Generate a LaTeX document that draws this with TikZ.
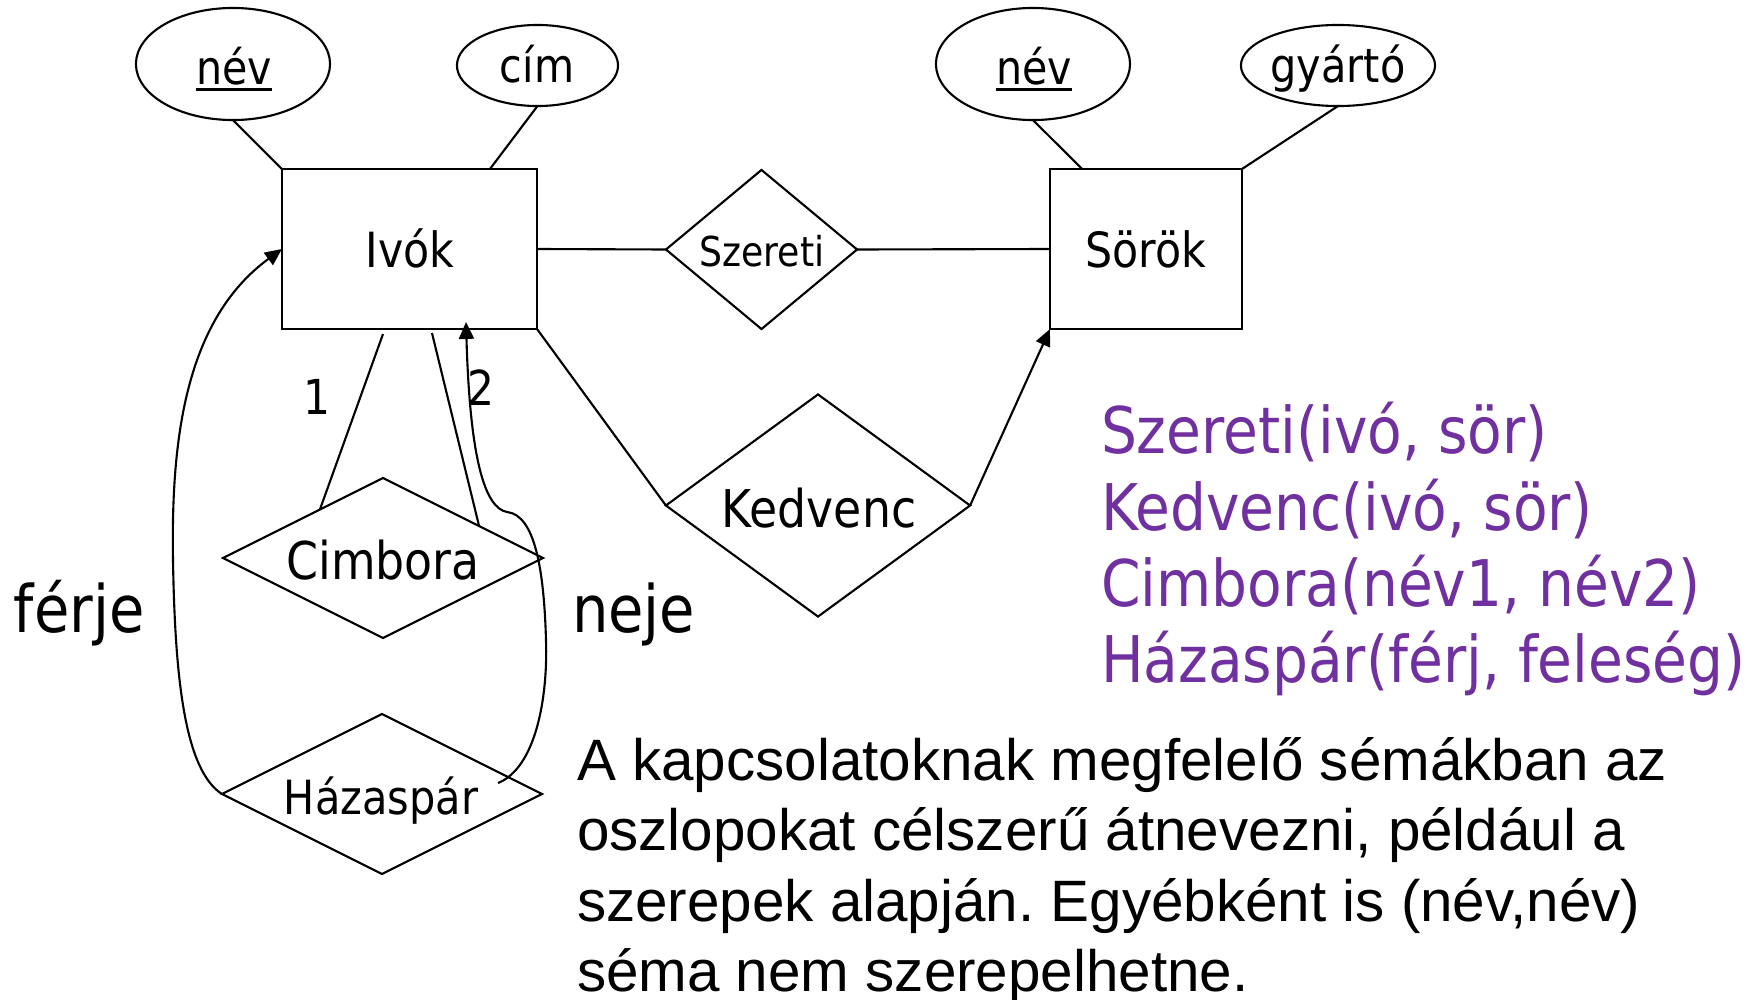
\documentclass[tikz,border=0pt]{standalone}
\usepackage{fontspec}
\setmainfont{DejaVu Sans}[FakeStretch=0.88]
\newfontfamily\arialf{Liberation Sans}
\usetikzlibrary{shapes.geometric,arrows.meta,calc}
\definecolor{lila}{RGB}{112,48,160}
\newcommand\fsz[1]{\fontsize{#1}{#1}\selectfont}
\frenchspacing
\begin{document}
\begin{tikzpicture}[x=0.01cm,y=-0.01cm,line width=0.6pt,
  ent/.style={draw,rectangle,line width=0.75pt,minimum width=#1,minimum height=1.6cm,inner sep=0pt,outer sep=0pt},
  attr/.style 2 args={draw,ellipse,minimum width=#1,minimum height=#2,inner sep=0pt,outer sep=0pt},
  rel/.style 2 args={draw,diamond,minimum width=#1,minimum height=#2,inner sep=0pt,outer sep=0pt},
  txt/.style={inner sep=0pt,outer sep=0pt,anchor=base},
  ltxt/.style={inner sep=0pt,outer sep=0pt,anchor=base west},
  arr/.style={-{Triangle[length=4.8pt,width=4.3pt]}}]
\useasboundingbox (0,0) rectangle (1756,1000);

% attributes
\node[attr={1.94cm}{1.12cm}] (nev1) at (233,64) {};
\node[attr={1.61cm}{0.81cm}] (cim) at (537.5,65.5) {};
\node[attr={1.94cm}{1.12cm}] (nev2) at (1033,64) {};
\node[attr={1.94cm}{0.81cm}] (gyarto) at (1338,65.5) {};
% entities
\node[ent=2.55cm] (ivok) at (409.5,249) {};
\node[ent=1.92cm] (sorok) at (1146,249) {};
% relationships
\node[rel={1.91cm}{1.59cm}] (szer) at (761.5,249.5) {};
\node[rel={3.04cm}{2.22cm}] (kedv) at (818,505.5) {};
\node[rel={3.2cm}{1.6cm}] (cimb) at (383,558) {};
\node[rel={3.2cm}{1.6cm}] (hazas) at (382,794) {};

% texts in shapes
\node[txt,font=\fsz{13.3}] (nev1T) at (234,84) {név};
\node[txt,font=\fsz{13.3}] (cimT) at (537,83) {cím};
\node[txt,font=\fsz{13.3}] (nev2T) at (1034,84) {név};
\node[txt,font=\fsz{13.4}] (gyartoT) at (1338,83) {gyártó};
\draw[line width=1pt] ($(nev1T.base west)+(0,5.5)$) -- ($(nev1T.base east)+(0,5.5)$);
\draw[line width=1pt] ($(nev2T.base west)+(0,5.5)$) -- ($(nev2T.base east)+(0,5.5)$);
\node[txt,font=\fsz{13.8}] (ivokT) at (410,268) {Ivók};
\node[txt,font=\fsz{13.8}] (sorokT) at (1146,268) {Sörök};
\node[txt,font=\fsz{11.7}] (szerT) at (762,266) {Szereti};
\node[txt,font=\fsz{14.8}] (kedvT) at (819,527) {Kedvenc};
\node[txt,font=\fsz{14.8}] (cimbT) at (383,579) {Cimbora};
\node[txt,font=\fsz{13.4}] (hazasT) at (381,814) {Házaspár};
\node[txt,font=\fsz{13.7}] (oneT) at (317,414) {1};
\node[txt,font=\fsz{13.7}] (twoT) at (481,405) {2};

% connectors
\draw (nev1.south) -- (ivok.north west);
\draw (cim.south) -- ($(ivok.north)+(80.5,0)$);
\draw (nev2.south) -- ($(sorok.north)+(-64,0)$);
\draw (gyarto.south) -- (sorok.north east);
\draw (ivok.east) -- (szer.west);
\draw (szer.east) -- (sorok.west);
\draw (ivok.south east) -- (kedv.west);
\draw[arr] (kedv.east) -- (sorok.south west);
\draw ($(ivok.south)+(-26.5,5)$) -- ($(cimb.west)!0.606!(cimb.north)$);
\draw ($(ivok.south)+(22.5,4)$) -- ($(cimb.north)!0.6!(cimb.east)$);
\draw[arr] (hazas.west) .. controls (185,770) and (175,680) .. (173,560)
  .. controls (171,440) and (185,320) .. (ivok.west);
\draw[arr] ($(hazas.east)+(-44,-11)$) .. controls (535,768) and (548,700) .. (546,640)
  .. controls (544,570) and (535,515) .. (507,512)
  .. controls (485,508) and (470,460) .. ($(ivok.south)+(56.5,-7)$);

% role labels
\node[ltxt,font=\fsz{18.6}] (ferjeT) at (14,632) {férje};
\node[ltxt,font=\fsz{18.6}] (nejeT) at (572,632) {neje};

% schemas
\node[ltxt,font=\fsz{18.3},text=lila] (s1) at (1101,453) {Szereti(ivó, sör)};
\node[ltxt,font=\fsz{18.3},text=lila] (s2) at (1101,530) {Kedvenc(ivó, sör)};
\node[ltxt,font=\fsz{18.3},text=lila] (s3) at (1101,606) {Cimbora(név1, név2)};
\node[ltxt,font=\fsz{18.3},text=lila] (s4) at (1101,682) {Házaspár(férj, feleség)};

% paragraph
\node[ltxt,font=\arialf\fsz{16.6}] (p1) at (577,780) {A kapcsolatoknak megfelelő sémákban az};
\node[ltxt,font=\arialf\fsz{16.6}] (p2) at (577,850.5) {oszlopokat célszerű átnevezni, például a};
\node[ltxt,font=\arialf\fsz{16.6}] (p3) at (577,921) {szerepek alapján. Egyébként is (név,név)};
\node[ltxt,font=\arialf\fsz{16.6}] (p4) at (577,991) {séma nem szerepelhetne.};
\end{tikzpicture}
\end{document}
